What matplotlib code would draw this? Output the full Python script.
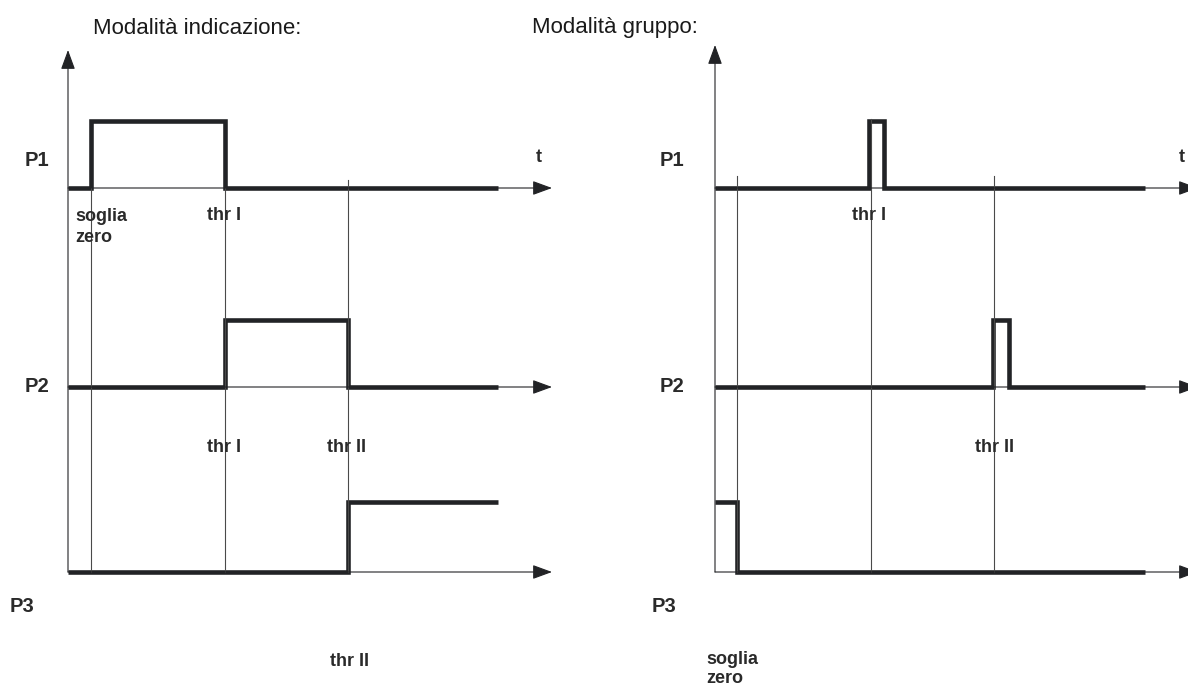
import matplotlib.pyplot as plt

# canale e livelli (pixel dell'immagine di riferimento)
channels = ['P1', 'P2', 'P3']
base_y = [188, 387, 572]
pulse_h = [67, 67, 70]

# modalita indicazione: fronti temporali e livelli per intervallo
left_t = [68, 91, 225, 348, 498]
left_levels = [[0, 1, 0, 0],
               [0, 0, 1, 0],
               [0, 0, 0, 1]]
left_marks = [91, 225, 348]        # soglia zero, thr I, thr II

# modalita gruppo
right_t = [715, 737, 869, 884, 993, 1009, 1145]
right_levels = [[0, 0, 1, 0, 0, 0],
                [0, 0, 0, 0, 1, 0],
                [1, 0, 0, 0, 0, 0]]
right_marks = [737, 871, 994]

thick = '#222326'
thin = '#4a4a4a'
lab = dict(family=['Liberation Sans', 'DejaVu Sans'], fontweight='bold', color='#2a2a2a')
title_font = ['Liberation Sans Narrow', 'Liberation Sans', 'DejaVu Sans']

fig = plt.figure(figsize=(11.88, 6.87), dpi=100)
ax = fig.add_axes([0, 0, 1, 1])
ax.set_xlim(0, 1188)
ax.set_ylim(687, 0)
ax.axis('off')

arrow = dict(arrowstyle='-|>,head_length=0.6,head_width=0.22', mutation_scale=20,
             lw=0.8, color=thick, shrinkA=0, shrinkB=0)


def panel(t, levels, marks, x_end, y_top, mark_top):
    x0 = t[0]
    # asse verticale
    ax.annotate('', xy=(x0, y_top), xytext=(x0, base_y[-1]), arrowprops=arrow,
                annotation_clip=False)
    # assi dei tempi
    for b in base_y:
        ax.annotate('', xy=(x_end, b), xytext=(x0, b), arrowprops=arrow,
                    annotation_clip=False)
    # linee delle soglie
    for m, top in zip(marks, mark_top):
        ax.plot([m, m], [top, base_y[-1]], color=thin, lw=0.8)
    # segnali
    for b, h, lv in zip(base_y, pulse_h, levels):
        ax.stairs([b - h * v for v in lv], t, baseline=None, color=thick, lw=3.3)


panel(left_t, left_levels, left_marks, 552, 50, [188, 188, 180])
panel(right_t, right_levels, right_marks, 1198, 45, [176, 119, 176])

# titoli
ax.text(93, 28, 'Modalità indicazione:', fontsize=16, family=title_font, va='center', color='#1a1a1a')
ax.text(532, 28, 'Modalità gruppo:', fontsize=16, family=title_font, va='center', color='#1a1a1a')

# etichette canali
for name, y, xl, xr in zip(channels, [160, 387, 606], [25, 25, 10], [660, 660, 652]):
    ax.text(xl, y, name, fontsize=14.5, va='center', **lab)
    ax.text(xr, y, name, fontsize=14.5, va='center', **lab)

ax.text(536, 157, 't', fontsize=13, va='center', **lab)
ax.text(1179, 157, 't', fontsize=13, va='center', **lab)

# etichette soglie
ax.text(75, 227, 'soglia\nzero', fontsize=13, va='center', linespacing=1.35, **lab)
ax.text(207, 215, 'thr I', fontsize=13, va='center', **lab)
ax.text(207, 447, 'thr I', fontsize=13, va='center', **lab)
ax.text(327, 447, 'thr II', fontsize=13, va='center', **lab)
ax.text(330, 662, 'thr II', fontsize=13, va='center', **lab)
ax.text(852, 215, 'thr I', fontsize=13, va='center', **lab)
ax.text(975, 447, 'thr II', fontsize=13, va='center', **lab)
ax.text(706, 669, 'soglia\nzero', fontsize=13, va='center', linespacing=1.2, **lab)

fig.savefig('out.png', dpi=100)
